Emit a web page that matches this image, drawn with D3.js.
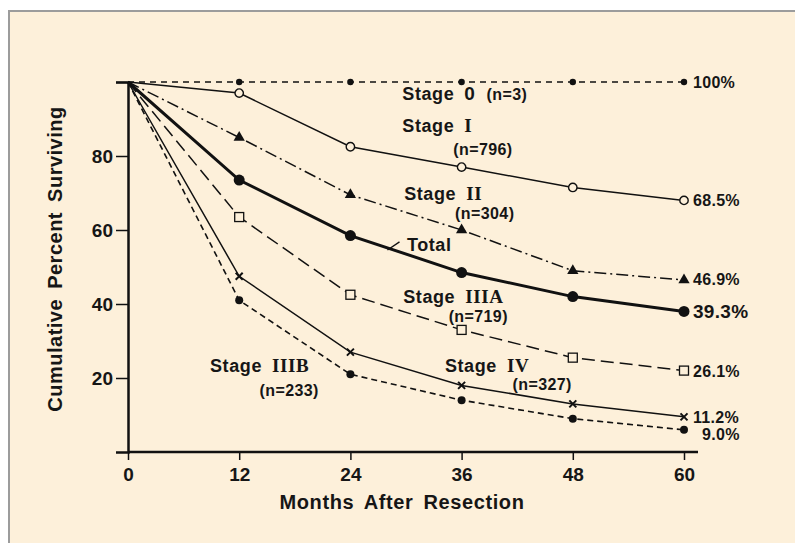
<!DOCTYPE html>
<html>
<head>
<meta charset="utf-8">
<script src="https://cdn.jsdelivr.net/npm/d3@7"></script>
<style>
  body { margin: 0; background: #fff; }
  svg text { font-family: "Liberation Sans", Arial, sans-serif; font-weight: bold; fill: #161616; }
</style>
</head>
<body>
<div id="chart"></div>
<script>
// Data
const months = [0, 12, 24, 36, 48, 60];
const stage0 = [100, 100, 100, 100, 100, 100];
const stageI = [100, 97, 82.5, 77, 71.5, 68];
const stageII = [100, 85, 69.5, 60, 49, 46.5];
const total = [100, 73.5, 58.5, 48.5, 42, 38];
const stageIIIA = [100, 63.5, 42.5, 33, 25.5, 22];
const stageIV = [100, 47.5, 27, 18, 13, 9.5];
const stageIIIB = [100, 41, 21, 14, 9, 6];
const endLabels = ["100%", "68.5%", "46.9%", "39.3%", "26.1%", "11.2%", "9.0%"];
const xTicks = [0, 12, 24, 36, 48, 60];
const yTicks = [20, 40, 60, 80, 100];

// Set svg dimensions
let svgWidth = 795;
let svgHeight = 543;
let svg = d3.select('#chart').append('svg')
    .attr('width', svgWidth)
    .attr('height', svgHeight);

// Cream panel with grey frame on top/left
svg.append('rect')
    .attr('x', 9).attr('y', 11)
    .attr('width', svgWidth).attr('height', svgHeight)
    .style('fill', '#fdf0da')
    .style('stroke', '#9c9c9c')
    .style('stroke-width', 2);

// Scales
let xScale = d3.scaleLinear().domain([0, 60]).range([128, 684]);
let yScale = d3.scaleLinear().domain([0, 100]).range([452, 82]);

// Axes
let xAxis = d3.axisBottom(xScale).tickValues(xTicks).tickSize(8).tickPadding(8);
let yAxis = d3.axisLeft(yScale).tickValues(yTicks).tickSize(12).tickPadding(3)
    .tickFormat(d => d === 100 ? '' : d);

let gx = svg.append('g').attr('transform', `translate(0, ${yScale(0)})`).call(xAxis);
let gy = svg.append('g').attr('transform', `translate(${xScale(0)}, 0)`).call(yAxis);
gx.select('.domain').attr('d', `M${xScale(0)},0H${xScale(60) + 14}`);
[gx, gy].forEach(g => {
    g.select('.domain').style('stroke', '#111').style('stroke-width', 2.5);
    g.selectAll('.tick line').style('stroke', '#111').style('stroke-width', 1.5);
    g.selectAll('.tick text')
        .style('font-family', '"Liberation Sans", Arial, sans-serif')
        .style('font-weight', 'bold')
        .style('font-size', '19px')
        .style('fill', '#161616');
});

// Series definitions (style kept apart from values)
let series = [
    { values: stage0, width: 1.4, dash: '6,5', marker: 'dot' },
    { values: stageI, width: 1.5, dash: null, marker: 'openCircle' },
    { values: stageII, width: 1.5, dash: '12,4,2,4', marker: 'triangle' },
    { values: total, width: 3, dash: null, marker: 'bigDot' },
    { values: stageIIIA, width: 1.5, dash: '13,6', marker: 'openSquare' },
    { values: stageIV, width: 1.5, dash: null, marker: 'cross' },
    { values: stageIIIB, width: 1.6, dash: '6,4', marker: 'midDot' }
];

let line = d3.line().x((d, i) => xScale(months[i])).y(d => yScale(d));

series.forEach(s => {
    svg.append('path')
        .attr('d', line(s.values))
        .style('fill', 'none')
        .style('stroke', '#111')
        .style('stroke-width', s.width)
        .style('stroke-dasharray', s.dash);

    let pts = svg.append('g').selectAll('g')
        .data(s.values.slice(1).map((v, i) => [months[i + 1], v]))
        .enter().append('g')
        .attr('transform', d => `translate(${xScale(d[0])}, ${yScale(d[1])})`);

    if (s.marker === 'dot' || s.marker === 'midDot' || s.marker === 'bigDot') {
        let r = s.marker === 'dot' ? 3.2 : s.marker === 'midDot' ? 4 : 5.5;
        pts.append('circle').attr('r', r).style('fill', '#111');
    } else if (s.marker === 'openCircle') {
        pts.append('circle').attr('r', 4.2)
            .style('fill', '#fdf0da').style('stroke', '#111').style('stroke-width', 1.4);
    } else if (s.marker === 'triangle') {
        pts.append('path').attr('d', d3.symbol().type(d3.symbolTriangle).size(55))
            .style('fill', '#111');
    } else if (s.marker === 'openSquare') {
        pts.append('rect').attr('x', -4.5).attr('y', -4.5).attr('width', 9).attr('height', 9)
            .style('fill', '#fdf0da').style('stroke', '#111').style('stroke-width', 1.3);
    } else if (s.marker === 'cross') {
        pts.append('path').attr('d', 'M-3.5,-3.5L3.5,3.5M-3.5,3.5L3.5,-3.5')
            .style('stroke', '#111').style('stroke-width', 2);
    }
});

// End-of-curve labels
let endDy = [6, 6, 5, 7, 6, 6, 10];
series.forEach((s, i) => {
    svg.append('text')
        .attr('x', xScale(60) + (i === 6 ? 18 : 9))
        .attr('y', yScale(s.values[5]) + endDy[i])
        .style('font-size', i === 3 ? '19px' : '16px')
        .style('letter-spacing', '0.3px')
        .text(endLabels[i]);
});

// Stage annotations, positioned in data units
function stageLabel(mx, v, numeral) {
    let t = svg.append('text')
        .attr('x', xScale(mx)).attr('y', yScale(v))
        .style('font-size', '18px')
        .style('letter-spacing', '0.6px');
    t.append('tspan').text('Stage');
    t.append('tspan').attr('dx', 10)
        .style('font-family', numeral === '0' ? '"Liberation Sans", Arial, sans-serif' : '"Liberation Serif", "Times New Roman", serif')
        .style('font-size', '19px')
        .text(numeral);
}
function nLabel(mx, v, txt) {
    svg.append('text')
        .attr('x', xScale(mx)).attr('y', yScale(v))
        .style('font-size', '16px')
        .style('letter-spacing', '0.4px')
        .text(txt);
}

stageLabel(29.6, 95.1, '0');
nLabel(38.7, 95.1, '(n=3)');
stageLabel(29.6, 86.6, 'I');
nLabel(35.1, 80.3, '(n=796)');
stageLabel(29.8, 68.1, 'II');
nLabel(35.3, 63, '(n=304)');
stageLabel(29.7, 40.3, 'IIIA');
nLabel(34.6, 35.1, '(n=719)');
stageLabel(34.2, 21.6, 'IV');
nLabel(41.5, 16.8, '(n=327)');
stageLabel(8.85, 21.6, 'IIIB');
nLabel(14.2, 15.1, '(n=233)');

// Total label with leader line
svg.append('text')
    .attr('x', xScale(30.1)).attr('y', yScale(54.3))
    .style('font-size', '18px')
    .style('letter-spacing', '0.6px')
    .text('Total');
svg.append('line')
    .attr('x1', xScale(28.0)).attr('y1', yScale(54.6))
    .attr('x2', xScale(29.3)).attr('y2', yScale(56.8))
    .style('stroke', '#111').style('stroke-width', 1.4);

// Axis titles
svg.append('text')
    .attr('text-anchor', 'middle')
    .attr('transform', `translate(${xScale(30) - 4}, 509)`)
    .style('font-size', '20px')
    .style('letter-spacing', '0.6px')
    .style('word-spacing', '4px')
    .text('Months After Resection');
svg.append('text')
    .attr('text-anchor', 'middle')
    .attr('transform', `translate(62, ${yScale(50) - 8}) rotate(-90)`)
    .style('font-size', '20px')
    .style('letter-spacing', '0.5px')
    .style('word-spacing', '4px')
    .text('Cumulative Percent Surviving');
</script>
</body>
</html>
